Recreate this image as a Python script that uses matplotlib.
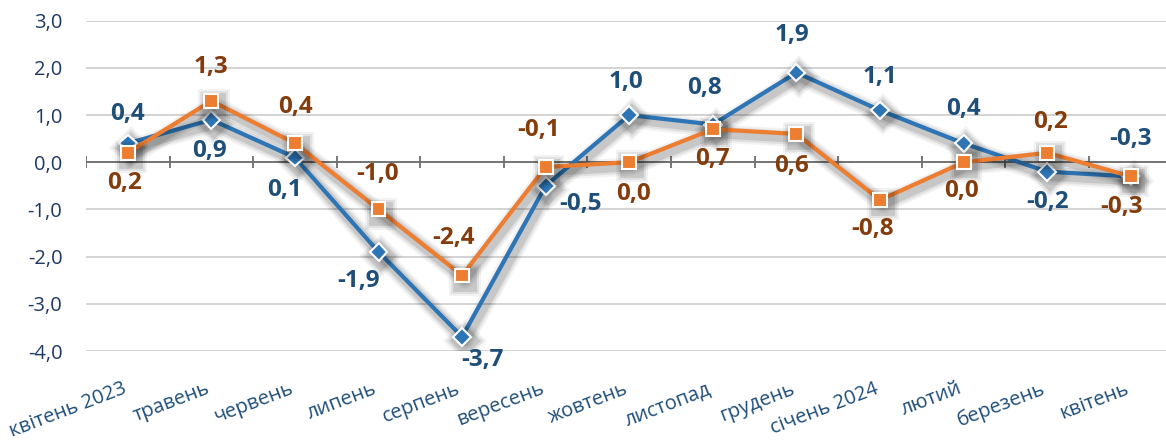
import numpy as np
import matplotlib
matplotlib.use("Agg")
import matplotlib.pyplot as plt
import matplotlib.patheffects as pe
from matplotlib.transforms import ScaledTranslation

plt.rcParams["font.family"] = ["Open Sans", "DejaVu Sans"]

months = ["квітень 2023", "травень", "червень", "липень", "серпень", "вересень",
          "жовтень", "листопад", "грудень", "січень 2024", "лютий", "березень", "квітень"]
blue_vals = [0.4, 0.9, 0.1, -1.9, -3.7, -0.5, 1.0, 0.8, 1.9, 1.1, 0.4, -0.2, -0.3]
orange_vals = [0.2, 1.3, 0.4, -1.0, -2.4, -0.1, 0.0, 0.7, 0.6, -0.8, 0.0, 0.2, -0.3]
yticks = [-4, -3, -2, -1, 0, 1, 2, 3]

# label offsets in pixels (dx, dy), dy positive = down as in the picture
blue_off = [(0, -29), (-2, 31), (-10, 32), (-20, 29), (20, 23), (35, 18), (-3, -33),
            (-8, -37), (-4, -38), (0, -33), (0, -34), (0, 30), (0, -37)]
orange_off = [(-3, 30), (0, -34), (0, -36), (-1, -35), (-9, -38), (-7, -37), (4, 32),
              (0, 30), (-5, 32), (-7, 29), (-2, 29), (3, -31), (-9, 31)]

BLUE, ORANGE = "#2E75B6", "#ED7D31"
BLUE_TXT, ORANGE_TXT = "#1F4E79", "#843C0C"

fig = plt.figure(figsize=(11.66, 4.43), dpi=100)
ax = fig.add_axes([86 / 1166, 1 - 351 / 443, 1080 / 1166, 330.3 / 443])

x = np.arange(len(months))
ax.set_xlim(-0.5, -0.5 + 1080 / 83.58)
ax.set_ylim(-4, 3)

for s in ax.spines.values():
    s.set_visible(False)
ax.set_yticks(yticks)
ax.set_yticklabels([f"{v:.1f}".replace(".", ",") for v in yticks])
ax.yaxis.grid(True, color="#D0D0D0", lw=1.3)
ax.set_axisbelow(True)
ax.tick_params(axis="y", length=0, pad=17, labelsize=14.5, labelcolor="#1F3864")

ax.set_xticks(x)
ax.set_xticklabels(months)
ax.tick_params(axis="x", length=0, pad=20, labelsize=14.5, labelcolor=BLUE_TXT)
for lab in ax.get_xticklabels():
    lab.set_rotation(21)
    lab.set_ha("right")
    lab.set_rotation_mode("anchor")
    lab.set_transform(lab.get_transform() + ScaledTranslation(-6 / 100, 0, fig.dpi_scale_trans))

# zero axis line with cross ticks between categories
ax.axhline(0, color="#6E6E6E", lw=1.3, zorder=2)
edges = np.arange(-0.5, len(months), 1.0)
ax.plot(edges, np.zeros_like(edges), linestyle="none", marker="|", markersize=9,
        markeredgewidth=1.3, color="#6E6E6E", zorder=2)

# soft drop shadow under the lines
shadow = [pe.SimpleLineShadow(offset=(2, -3), shadow_color="#000000", alpha=a, linewidth=w)
          for a, w in [(0.05, 13), (0.07, 10), (0.11, 7)]] + [pe.Normal()]

ax.plot(x, blue_vals, color=BLUE, lw=3, marker="D", markersize=9,
        markerfacecolor=BLUE, markeredgecolor="white", markeredgewidth=1.5,
        path_effects=shadow, zorder=3)
ax.plot(x, orange_vals, color=ORANGE, lw=3, marker="s", markersize=10,
        markerfacecolor=ORANGE, markeredgecolor="white", markeredgewidth=1.5,
        path_effects=shadow, zorder=4)

for xi, v, (dx, dy) in zip(x, blue_vals, blue_off):
    ax.annotate(f"{v:.1f}".replace(".", ","), (xi, v), xytext=(dx, -dy),
                textcoords="offset pixels", ha="center", va="center",
                fontsize=17.5, fontweight="bold", color=BLUE_TXT, zorder=5)
for xi, v, (dx, dy) in zip(x, orange_vals, orange_off):
    ax.annotate(f"{v:.1f}".replace(".", ","), (xi, v), xytext=(dx, -dy),
                textcoords="offset pixels", ha="center", va="center",
                fontsize=17.5, fontweight="bold", color=ORANGE_TXT, zorder=5)

fig.savefig("out.png", dpi=100)
